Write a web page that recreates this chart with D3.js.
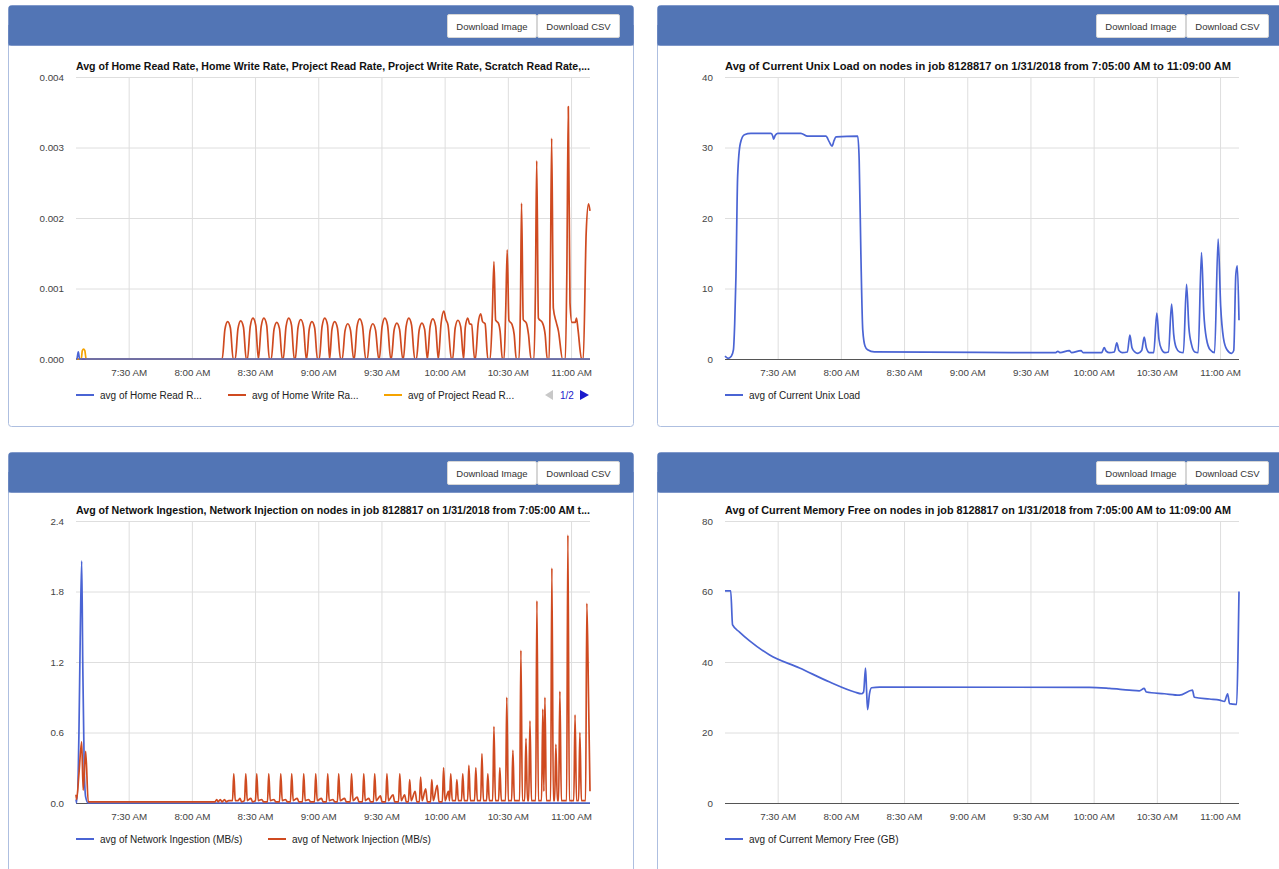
<!DOCTYPE html>
<html><head><meta charset="utf-8">
<script src="https://cdn.jsdelivr.net/npm/d3@7"></script>
<style>
body{margin:0;background:#fff;}
svg{display:block;font-family:"Liberation Sans",Arial,Helvetica,sans-serif;}
</style></head><body>
<svg id="c" width="1279" height="869"></svg>
<script>
// ---------------- DATA ----------------
const startLabel = "7:05 AM", endLabel = "11:09 AM";
const xTickLabels = ["7:30 AM","8:00 AM","8:30 AM","9:00 AM","9:30 AM","10:00 AM","10:30 AM","11:00 AM"];

const titles = [
  "Avg of Home Read Rate, Home Write Rate, Project Read Rate, Project Write Rate, Scratch Read Rate,...",
  "Avg of Current Unix Load on nodes in job 8128817 on 1/31/2018 from 7:05:00 AM to 11:09:00 AM",
  "Avg of Network Ingestion, Network Injection on nodes in job 8128817 on 1/31/2018 from 7:05:00 AM t...",
  "Avg of Current Memory Free on nodes in job 8128817 on 1/31/2018 from 7:05:00 AM to 11:09:00 AM"
];
const ioTicks = [0, 0.001, 0.002, 0.003, 0.004];
const loadTicks = [0, 10, 20, 30, 40];
const netTicks = [0, 0.6, 1.2, 1.8, 2.4];
const memTicks = [0, 20, 40, 60, 80];

const ioLegend = ["avg of Home Read R...", "avg of Home Write Ra...", "avg of Project Read R..."];
const loadLegend = ["avg of Current Unix Load"];
const netLegend = ["avg of Network Ingestion (MB/s)", "avg of Network Injection (MB/s)"];
const memLegend = ["avg of Current Memory Free (GB)"];

// [minutes after 7:05, value]
const homeReadRate = [[0,0],[0.4,0],[1.1,0.0001],[1.7,0],[244,0]];
const projectReadRate = [[0,0],[2.5,0],[3.0,0.00012],[3.6,0.00014],[4.2,0.00012],[4.8,0],[244,0]];
const homeWriteRate = [
  [0,0],[69.4,0],[70.7,0.00042],[72.0,0.00053],[73.3,0.00044],[74.6,0],
  [75.6,0],[76.9,0.00043],[78.2,0.00054],[79.5,0.00045],[80.8,0],
  [81.4,0],[82.7,0.00046],[84.0,0.00058],[85.3,0.00048],[86.6,0],
  [87.9,0.00046],[89.2,0.00058],[90.5,0.00048],[91.8,0],
  [92.7,0],[94.0,0.00042],[95.3,0.00052],[96.6,0.00043],[97.9,0],
  [98.4,0],[99.7,0.00046],[101.0,0.00058],[102.3,0.00048],[103.6,0],
  [104.1,0],[105.4,0.00045],[106.7,0.00056],[108.0,0.00046],[109.3,0],
  [109.5,0],[110.7,0.00042],[112.0,0.00053],[113.3,0.00044],[114.6,0],
  [115.5,0],[116.8,0.00046],[118.1,0.00058],[119.4,0.00048],[120.4,0],
  [121.5,0.00042],[122.8,0.00053],[124.1,0.00044],[125.6,0],
  [126.4,0],[127.7,0.0004],[129.0,0.0005],[130.3,0.00041],[131.8,0],
  [132.1,0],[133.4,0.00046],[134.7,0.00057],[136.0,0.00047],[137.5,0],
  [138.3,0],[139.6,0.0004],[140.9,0.0005],[142.2,0.00041],[143.7,0],
  [144.0,0],[145.3,0.00046],[146.6,0.00058],[147.9,0.00048],[149.4,0],
  [149.7,0],[151.0,0.00041],[152.3,0.00051],[153.6,0.00042],[155.1,0],
  [155.4,0],[156.7,0.00046],[158.0,0.00058],[159.3,0.00048],[160.8,0],
  [161.6,0],[162.9,0.00041],[164.2,0.00051],[165.5,0.00042],[166.8,0],
  [168.1,0.00046],[169.4,0.00057],[170.7,0.00047],[172.0,0],
  [173.3,0.0005],[174.6,0.00068],[175.6,0.00056],[176.6,0.00048],[178.2,0],
  [178.8,0],[180.0,0.00044],[181.3,0.00055],[182.6,0.00046],[184.0,0],
  [184.8,0.00045],[186.0,0.00058],[186.8,0.0005],[187.8,0.00049],[189.2,0],
  [189.6,0],[190.9,0.0005],[192.1,0.00064],[193.0,0.00053],[194.2,0.0005],[195.5,0],
  [196.6,0],[197.6,0.0006],[198.4,0.00138],[199.2,0.00055],[200.5,0.00051],[201.3,0.0004],[202.4,0],
  [203.2,0],[204.0,0.0007],[204.7,0.00155],[205.5,0.00055],[207.0,0.00049],[208.0,0.00035],[209.0,0],
  [210.3,0],[211.0,0.0008],[211.5,0.00221],[212.3,0.00056],[213.8,0.00051],[214.8,0.00035],[216.0,0],
  [217.4,0],[218.1,0.001],[218.7,0.00281],[219.5,0.00058],[221.5,0.00051],[222.7,0.00035],[223.7,0],
  [224.6,0],[225.2,0.0012],[225.8,0.00313],[226.6,0.00072],[228.0,0.00052],[229.0,0.0004],[231.0,0],
  [232.3,0],[233.0,0.0012],[233.7,0.00358],[234.5,0.0008],[235.4,0.00052],[237.0,0.00052],[237.6,0.00058],[238.3,0.00042],[240.0,0],
  [240.8,0],[242.2,0.0018],[243.3,0.0022],[244,0.0021]
];

const unixLoad = [
  [0,0.4],[1.5,0.1],[3,0.4],[4,1.3],[4.6,5],[5.2,11.7],[6.0,25.9],[7.3,30.6],[9.2,31.8],[12.3,32],
  [21.8,32],[22.7,31.6],[23.1,31.2],[23.8,31.7],[25,32],[36,32],[39.2,31.6],[47.9,31.6],[49.5,30.8],
  [50.8,30.2],[51.8,31],[52.7,31.5],[63,31.6],[63.7,28.2],[64.5,15],[65.4,4.1],[66.5,1.8],[67.7,1.3],
  [70.9,1.0],[120,0.95],[150,0.9],[157,0.9],[158,1.1],[159,0.9],[163.4,1.2],[164.5,0.9],[169,1.2],
  [170,0.9],[175,0.9],[178.8,0.9],[180,1.6],[181,1.1],[182.5,0.9],[184.8,1.0],[186,2.3],[187,1.2],
  [188.5,0.9],[191,1.0],[192.2,3.4],[193.2,1.6],[194.5,1.0],[196,0.8],[197.8,1.2],[199,3.1],[200,1.6],
  [201.5,0.9],[203.5,0.9],[205,6.5],[206,2.8],[207.2,1.4],[208.8,0.9],[210.5,1.0],[212,7.8],[213,3.5],
  [214.2,1.6],[215.8,1.0],[217.6,0.9],[219.1,10.6],[220.2,4.5],[221.5,2.0],[223,1.0],[224.6,0.9],
  [226.2,15.1],[227.3,6.5],[228.6,2.8],[230.3,1.3],[232.4,0.9],[234.1,17.0],[235.3,7.5],[236.6,3.0],
  [238.3,1.3],[240.5,0.8],[241.5,1.2],[242.5,12],[243.2,13.2],[244,5.5]
];

const netIngestion = [[0,0.03],[0.3,0.0],[1.4,0.6],[2.0,1.4],[2.7,2.06],[3.2,1.2],[3.9,0.3],[4.6,0.05],[5.8,0.0],[244,0.0]];
const netInjection = [
  [0,0.07],[0.3,0.03],[1.4,0.25],[2.7,0.52],[3.4,0.11],[4.6,0.44],[5.8,0.01],[66,0.01],[66.8,0.03],
  [67.5,0.01],[68.5,0.03],[69.3,0.01],[70.5,0.03],[71.3,0.01],[72.5,0.02],[74.3,0.02],[74.9,0.25],
  [75.6,0.02],[77,0.02],[77.8,0.04],[78.6,0.01],[80.0,0.02],[80.6,0.25],[81.3,0.02],[83,0.04],[83.8,0.01],
  [85.2,0.02],[85.8,0.25],[86.5,0.02],[88.2,0.03],[89,0.01],[90.9,0.01],[91.5,0.25],[92.2,0.02],[94,0.03],
  [94.8,0.01],[96.6,0.01],[97.2,0.25],[97.9,0.02],[99.5,0.03],[100.3,0.01],[101.8,0.01],[102.4,0.25],
  [103.1,0.02],[105,0.04],[105.8,0.01],[107.5,0.01],[108.1,0.25],[108.8,0.02],[110.5,0.03],[111.3,0.01],
  [113.2,0.01],[113.8,0.25],[114.5,0.02],[116.5,0.04],[117.3,0.01],[118.9,0.01],[119.5,0.25],[120.2,0.02],
  [122,0.03],[122.8,0.01],[124.1,0.01],[124.7,0.25],[125.4,0.02],[127.5,0.04],[128.3,0.01],[130.2,0.01],
  [130.8,0.25],[131.5,0.02],[133.5,0.05],[134.3,0.01],[136,0.01],[136.6,0.25],[137.3,0.02],[139,0.04],
  [139.8,0.01],[141.2,0.01],[141.8,0.25],[142.5,0.02],[144.5,0.06],[145.3,0.01],[147,0.01],[147.6,0.25],
  [148.3,0.02],[150.5,0.07],[151.3,0.01],[153.1,0.01],[153.7,0.25],[154.4,0.02],[156,0.07],[156.8,0.01],
  [157.8,0.01],[158.4,0.2],[159.1,0.02],[161,0.1],[161.8,0.01],[163,0.01],[163.6,0.22],[164.3,0.02],
  [166,0.12],[166.8,0.01],[168.3,0.01],[168.9,0.2],[169.6,0.02],[171.5,0.15],[172.3,0.01],[173.9,0.01],
  [174.5,0.3],[175.2,0.02],[176.8,0.1],[177.3,0.02],[177.9,0.25],[178.6,0.02],[180.2,0.02],[180.8,0.2],
  [181.5,0.02],[183.0,0.02],[183.6,0.25],[184.3,0.02],[185.9,0.02],[186.5,0.32],[187.2,0.02],[189.2,0.02],
  [189.8,0.3],[190.5,0.02],[192.1,0.02],[192.7,0.42],[193.4,0.02],[194.9,0.02],[195.5,0.25],[196.2,0.02],
  [197.8,0.02],[198.4,0.65],[199.1,0.02],[200.6,0.02],[201.2,0.3],[201.9,0.02],[203.9,0.02],[204.5,0.9],
  [205.2,0.02],[206.8,0.02],[207.4,0.45],[208.1,0.02],[210.6,0.02],[211.2,1.3],[211.9,0.02],[213.0,0.02],
  [213.6,0.55],[214.3,0.02],[214.9,0.02],[215.5,0.7],[216.2,0.02],[218.2,0.02],[218.8,1.72],[219.5,0.02],
  [221.0,0.02],[221.6,0.8],[222.1,0.1],[222.6,0.9],[223.3,0.02],[225.3,0.02],[225.9,2.0],[226.6,0.02],
  [227.2,0.02],[227.8,0.5],[228.5,0.02],[229.1,0.02],[229.7,0.95],[230.4,0.02],[232.9,0.02],[233.5,2.28],
  [234.2,0.02],[236.3,0.02],[236.9,0.75],[237.6,0.02],[238.6,0.02],[239.2,0.6],[239.9,0.02],[241.9,0.02],
  [242.5,1.7],[243.3,0.9],[244,0.1]
];

const memFree = [
  [0,60.2],[2.7,60.2],[3.6,50.5],[6.9,48.5],[11.7,46],[21.2,42],[35.4,38.3],[49.7,34.3],[61.5,31.5],
  [64.8,31],[65.8,31.5],[66.7,38.3],[67.2,32],[67.7,26.5],[68.6,31],[69.6,32.7],[73.4,32.9],[173,32.8],
  [182.5,32.5],[192,32],[196.7,31.8],[199,32.5],[200,31.5],[208.6,31],[215.7,30.6],[221.9,32],[222.8,30],
  [230,29.5],[234.8,29.2],[237.1,28.8],[238.6,31],[239.5,28.2],[242.4,28],[242.9,28],[243.6,45],[244,60]
];

// ---------------- LAYOUT ----------------
const svg = d3.select("#c");
const parseT = d3.timeParse("%I:%M %p");
const t0 = parseT(startLabel), t1 = parseT(endLabel);
const toDate = m => new Date(t0.getTime() + m * 60000);
const tickDates = xTickLabels.map(parseT);

const BLUE = "#4a64d4", ORANGE = "#cf4a20", YELLOW = "#f5a300";

const panels = [
  {px:8, py:5, plot:{x:76, y:77, w:514, h:282}, title:titles[0], titleW:514, ticks:ioTicks, fmt:d3.format(".3f"),
   series:[{d:homeWriteRate,c:ORANGE},{d:projectReadRate,c:YELLOW},{d:homeReadRate,c:BLUE}],
   legend:[{t:ioLegend[0],c:BLUE,x:76},{t:ioLegend[1],c:ORANGE,x:228},{t:ioLegend[2],c:YELLOW,x:384}], pager:true},
  {px:657, py:5, plot:{x:725, y:77, w:514, h:282}, title:titles[1], titleW:506, ticks:loadTicks, fmt:d3.format("d"),
   series:[{d:unixLoad,c:BLUE}], legend:[{t:loadLegend[0],c:BLUE,x:725}]},
  {px:8, py:452, plot:{x:76, y:521, w:514, h:282}, title:titles[2], titleW:514, ticks:netTicks, fmt:d3.format(".1f"),
   series:[{d:netIngestion,c:BLUE},{d:netInjection,c:ORANGE}],
   legend:[{t:netLegend[0],c:BLUE,x:76},{t:netLegend[1],c:ORANGE,x:268}]},
  {px:657, py:452, plot:{x:725, y:521, w:514, h:282}, title:titles[3], titleW:506, ticks:memTicks, fmt:d3.format("d"),
   series:[{d:memFree,c:BLUE}], legend:[{t:memLegend[0],c:BLUE,x:725}]}
];

panels.forEach(p => {
  const g = svg.append("g");
  const pw = 625, ph = 421;
  g.append("rect").attr("x", p.px + 0.5).attr("y", p.py + 0.5).attr("width", pw).attr("height", ph)
    .attr("rx", 3).attr("fill", "#fff").attr("stroke", "#aebfe0");
  g.append("rect").attr("x", p.px + 0.5).attr("y", p.py + 0.5).attr("width", pw).attr("height", 40)
    .attr("rx", 3).attr("fill", "#5275b5");
  g.append("rect").attr("x", p.px + 0.5).attr("y", p.py + 20).attr("width", pw).attr("height", 20.5)
    .attr("fill", "#5275b5");
  // buttons
  const bx = p.px + pw - 186, by = p.py + 9;
  [["Download Image", 0, 89], ["Download CSV", 90, 82]].forEach(([t, dx, w]) => {
    g.append("rect").attr("x", bx + dx + 0.5).attr("y", by + 0.5).attr("width", w).attr("height", 23)
      .attr("fill", "#fff").attr("stroke", "#d6d6d6").attr("rx", 1.5);
    g.append("text").attr("x", bx + dx + w / 2 + 0.5).attr("y", by + 15.5).attr("text-anchor", "middle")
      .attr("font-size", 9.5).attr("fill", "#333").text(t);
  });

  const P = p.plot;
  const x = d3.scaleTime().domain([t0, t1]).range([P.x, P.x + P.w]);
  const y = d3.scaleLinear().domain([p.ticks[0], p.ticks[p.ticks.length - 1]]).range([P.y + P.h, P.y]);

  // gridlines
  const gx = g.append("g").attr("transform", `translate(0,${P.y + P.h})`)
    .call(d3.axisBottom(x).tickValues(tickDates).tickSize(-P.h).tickFormat(""));
  gx.select(".domain").remove();
  gx.selectAll("line").attr("stroke", "#dedede");
  const gy = g.append("g").attr("transform", `translate(${P.x},0)`)
    .call(d3.axisLeft(y).tickValues(p.ticks.slice(1)).tickSize(-P.w).tickFormat(""));
  gy.select(".domain").remove();
  gy.selectAll("line").attr("stroke", "#dedede");

  // baseline
  g.append("line").attr("x1", P.x).attr("x2", P.x + P.w).attr("y1", y(0) + 0.5).attr("y2", y(0) + 0.5)
    .attr("stroke", "#555").attr("stroke-width", 1);

  // axis labels
  const ax = g.append("g").attr("transform", `translate(0,${P.y + P.h})`)
    .call(d3.axisBottom(x).tickValues(tickDates).tickSize(0).tickPadding(10).tickFormat(d3.timeFormat("%-I:%M %p")));
  ax.select(".domain").remove();
  ax.selectAll("text").attr("font-size", 9.8).attr("fill", "#444").attr("font-family", null);
  const ay = g.append("g").attr("transform", `translate(${P.x},0)`)
    .call(d3.axisLeft(y).tickValues(p.ticks).tickSize(0).tickPadding(12).tickFormat(p.fmt));
  ay.select(".domain").remove();
  ay.selectAll("text").attr("font-size", 9.8).attr("fill", "#444").attr("font-family", null);

  // title
  g.append("text").attr("x", P.x).attr("y", P.y - 7).attr("font-size", 10.4).attr("font-weight", "bold")
    .attr("fill", "#111").attr("textLength", p.titleW).attr("lengthAdjust", "spacingAndGlyphs").text(p.title);

  // lines
  const line = d3.line().x(d => x(toDate(d[0]))).y(d => y(d[1])).curve(d3.curveMonotoneX);
  p.series.forEach(s => {
    g.append("path").datum(s.d).attr("d", line).attr("fill", "none").attr("stroke", s.c)
      .attr("stroke-width", 1.7).attr("stroke-linejoin", "round");
  });

  // legend
  const ly = P.y + P.h + 36;
  p.legend.forEach(l => {
    g.append("line").attr("x1", l.x).attr("x2", l.x + 18).attr("y1", ly).attr("y2", ly)
      .attr("stroke", l.c).attr("stroke-width", 2);
    g.append("text").attr("x", l.x + 24).attr("y", ly + 3.5).attr("font-size", 10).attr("fill", "#222").text(l.t);
  });
  if (p.pager) {
    g.append("path").attr("d", `M553,${ly - 5}L545,${ly}L553,${ly + 5}Z`).attr("fill", "#c8c8c8");
    g.append("text").attr("x", 560).attr("y", ly + 3.5).attr("font-size", 10).attr("fill", "#1a1acc").text("1/2");
    g.append("path").attr("d", `M580,${ly - 5}L589,${ly}L580,${ly + 5}Z`).attr("fill", "#1a1acc");
  }
});
</script>
</body></html>
